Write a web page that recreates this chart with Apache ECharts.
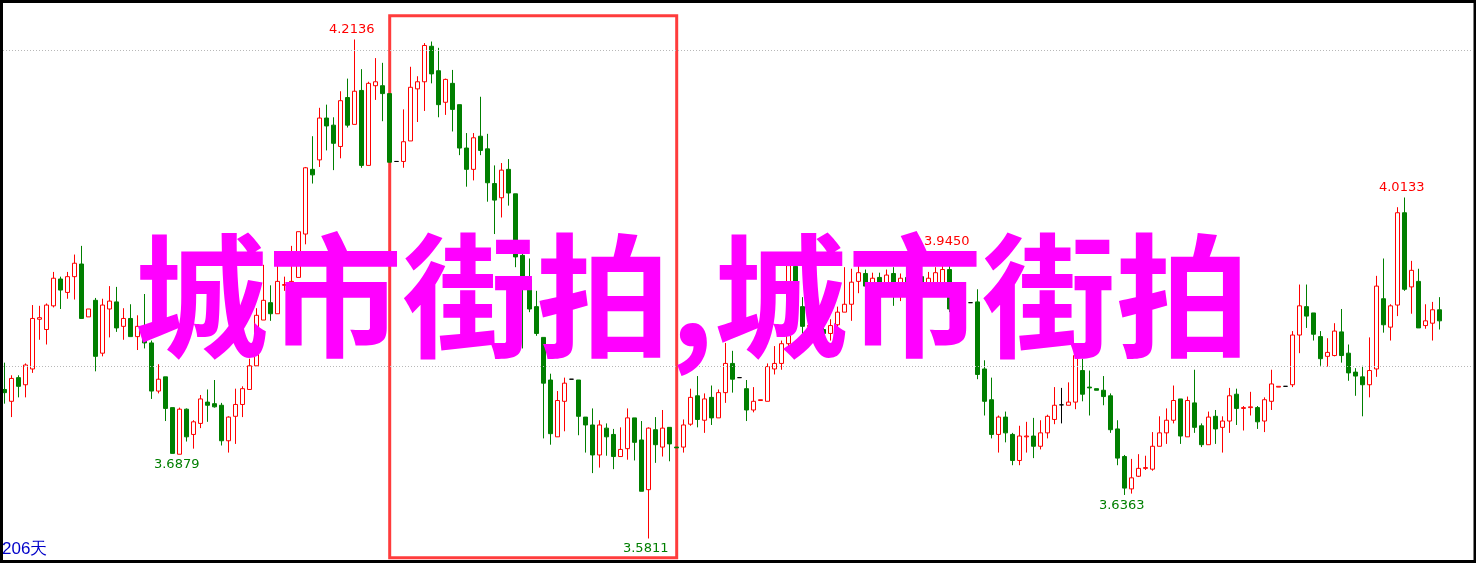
<!DOCTYPE html>
<html>
<head>
<meta charset="utf-8">
<script src="https://cdn.jsdelivr.net/npm/echarts@6/dist/echarts.min.js"></script>
<style>
html,body{margin:0;padding:0;background:#fff;}
#c{width:1476px;height:563px;}
</style>
</head>
<body>
<div id="c"></div>
<script>
const opens = [
3.770,3.755,3.785,3.776,3.796,3.859,3.846,3.876,3.910,3.893,
3.913,3.929,3.862,3.883,3.816,3.872,3.881,3.850,3.860,3.837,
3.849,3.829,3.768,3.786,3.747,3.6879,3.745,3.713,3.727,3.754,
3.752,3.750,3.705,3.736,3.751,3.770,3.800,3.858,3.880,3.866,
3.902,3.897,3.912,3.967,4.049,4.061,4.114,4.105,4.078,4.140,
4.106,4.149,4.054,4.155,4.155,4.145,4.059,4.059,4.085,4.151,
4.160,4.205,4.174,4.134,4.158,4.131,4.076,4.049,4.091,4.075,
4.031,4.013,4.049,4.018,3.940,3.909,3.875,3.836,3.782,3.710,
3.755,3.783,3.782,3.735,3.725,3.687,3.721,3.713,3.685,3.695,
3.734,3.706,3.643,3.719,3.697,3.722,3.697,3.697,3.726,3.762,
3.731,3.760,3.734,3.766,3.803,3.785,3.771,3.744,3.756,3.755,
3.796,3.803,3.828,3.926,3.875,3.850,3.851,3.846,3.841,3.852,
3.868,3.878,3.907,3.917,3.901,3.912,3.904,3.917,3.904,3.912,
3.904,3.913,3.902,3.904,3.904,3.922,3.872,3.877,3.880,3.881,
3.796,3.757,3.713,3.735,3.713,3.680,3.710,3.711,3.698,3.715,
3.732,3.7505,3.750,3.754,3.794,3.773,3.771,3.769,3.762,3.720,
3.685,3.644,3.660,3.670,3.669,3.698,3.715,3.731,3.758,3.710,
3.753,3.724,3.700,3.736,3.722,3.730,3.764,3.746,3.747,3.747,
3.730,3.755,3.773,3.774,3.776,3.839,3.875,3.867,3.837,3.812,
3.813,3.843,3.816,3.792,3.786,3.776,3.796,3.885,3.849,3.877,
3.994,3.900,3.907,3.851,3.854,3.871
];
const closes = [
3.766,3.784,3.774,3.801,3.860,3.861,3.877,3.911,3.896,3.913,
3.930,3.860,3.872,3.812,3.877,3.882,3.848,3.860,3.837,3.850,
3.829,3.768,3.783,3.746,3.689,3.745,3.710,3.729,3.758,3.750,
3.748,3.705,3.735,3.751,3.771,3.800,3.864,3.883,3.866,3.907,
3.903,3.907,3.970,4.051,4.042,4.114,4.104,4.082,4.136,4.105,
4.148,4.054,4.158,4.160,4.145,4.058,4.059,4.084,4.153,4.160,
4.206,4.170,4.131,4.163,4.125,4.076,4.049,4.089,4.073,4.032,
4.010,4.048,4.019,3.938,3.911,3.872,3.841,3.778,3.714,3.756,
3.778,3.783,3.736,3.725,3.687,3.725,3.710,3.685,3.694,3.734,
3.703,3.641,3.721,3.700,3.721,3.701,3.696,3.725,3.760,3.732,
3.758,3.734,3.766,3.803,3.783,3.785,3.744,3.755,3.757,3.799,
3.803,3.828,3.927,3.877,3.850,3.851,3.845,3.841,3.851,3.868,
3.878,3.906,3.918,3.901,3.911,3.904,3.915,3.904,3.911,3.904,
3.913,3.902,3.911,3.918,3.922,3.872,3.881,3.881,3.880,3.789,
3.755,3.713,3.735,3.715,3.680,3.711,3.711,3.698,3.715,3.736,
3.750,3.7505,3.754,3.813,3.764,3.772,3.769,3.761,3.719,3.683,
3.645,3.658,3.670,3.671,3.698,3.715,3.731,3.756,3.711,3.756,
3.722,3.700,3.735,3.720,3.730,3.762,3.746,3.747,3.748,3.729,
3.757,3.777,3.774,3.774,3.839,3.876,3.863,3.840,3.809,3.817,
3.844,3.813,3.791,3.787,3.776,3.794,3.901,3.852,3.876,3.994,
3.897,3.921,3.848,3.857,3.871,3.857
];
const lows = [
3.752,3.735,3.760,3.760,3.791,3.833,3.827,3.874,3.872,3.885,
3.884,3.860,3.862,3.793,3.812,3.836,3.843,3.833,3.837,3.820,
3.822,3.758,3.765,3.730,3.689,3.6879,3.704,3.695,3.721,3.729,
3.747,3.699,3.690,3.701,3.735,3.770,3.800,3.858,3.857,3.866,
3.895,3.895,3.912,3.954,4.031,4.052,4.073,4.048,4.063,4.102,
4.106,4.051,4.054,4.137,4.110,4.058,4.059,4.051,4.085,4.109,
4.123,4.158,4.115,4.118,4.097,4.067,4.027,4.035,4.067,4.008,
3.967,3.988,4.003,3.925,3.822,3.868,3.838,3.708,3.700,3.710,
3.717,3.783,3.712,3.690,3.664,3.671,3.686,3.669,3.685,3.681,
3.680,3.641,3.5811,3.677,3.685,3.679,3.696,3.690,3.724,3.722,
3.715,3.725,3.734,3.753,3.766,3.785,3.730,3.741,3.756,3.755,
3.789,3.795,3.820,3.872,3.834,3.850,3.838,3.834,3.832,3.834,
3.868,3.857,3.892,3.887,3.895,3.897,3.904,3.876,3.882,3.863,
3.900,3.895,3.897,3.900,3.904,3.868,3.872,3.875,3.880,3.783,
3.737,3.708,3.690,3.703,3.674,3.674,3.690,3.683,3.694,3.708,
3.726,3.727,3.750,3.745,3.755,3.737,3.769,3.750,3.715,3.674,
3.6363,3.638,3.659,3.668,3.667,3.698,3.701,3.727,3.701,3.710,
3.715,3.697,3.700,3.701,3.690,3.715,3.725,3.718,3.737,3.720,
3.716,3.744,3.773,3.774,3.773,3.816,3.848,3.832,3.800,3.799,
3.812,3.804,3.781,3.762,3.736,3.760,3.786,3.842,3.832,3.863,
3.895,3.866,3.848,3.847,3.832,3.846
];
const highs = [
3.804,3.788,3.788,3.803,3.877,3.876,3.879,3.919,3.913,3.919,
3.941,3.952,3.872,3.886,3.885,3.901,3.900,3.873,3.878,3.864,
3.891,3.832,3.802,3.786,3.747,3.747,3.746,3.731,3.763,3.770,
3.782,3.753,3.736,3.771,3.774,3.809,3.873,3.928,3.902,3.927,
3.913,3.952,3.970,4.052,4.091,4.127,4.131,4.115,4.148,4.164,
4.2136,4.176,4.160,4.190,4.184,4.145,4.059,4.125,4.179,4.167,
4.209,4.211,4.203,4.164,4.175,4.131,4.095,4.095,4.141,4.094,
4.054,4.057,4.062,4.018,3.942,3.936,3.895,3.836,3.790,3.768,
3.785,3.783,3.782,3.735,3.746,3.731,3.727,3.720,3.722,3.746,
3.734,3.730,3.722,3.735,3.744,3.722,3.697,3.732,3.771,3.787,
3.765,3.775,3.770,3.829,3.819,3.785,3.782,3.773,3.757,3.803,
3.825,3.832,3.940,3.932,3.887,3.851,3.859,3.852,3.859,3.875,
3.925,3.923,3.944,3.922,3.918,3.918,3.922,3.925,3.917,3.912,
3.920,3.918,3.919,3.925,3.927,3.9450,3.884,3.888,3.880,3.897,
3.807,3.785,3.737,3.742,3.715,3.724,3.729,3.734,3.731,3.738,
3.773,3.772,3.779,3.816,3.809,3.794,3.771,3.787,3.765,3.731,
3.687,3.682,3.688,3.686,3.716,3.736,3.746,3.775,3.758,3.761,
3.795,3.727,3.742,3.744,3.736,3.772,3.771,3.749,3.767,3.749,
3.760,3.795,3.774,3.774,3.844,3.903,3.903,3.867,3.844,3.835,
3.854,3.872,3.827,3.797,3.800,3.836,3.914,3.936,3.878,4.001,
4.0133,3.933,3.923,3.878,3.881,3.887
];
// flat (doji) candles drawn in black
const blackDoji = [56, 81, 105, 138, 151, 183];
// highlighted extremes: [index, value, 'top'|'bottom']
const extremes = [
  [50, 4.2136, 'top'], [25, 3.6879, 'bottom'], [92, 3.5811, 'bottom'],
  [135, 3.9450, 'top'], [160, 3.6363, 'bottom'], [200, 4.0133, 'top']
];
const gridLevels = [3.8, 4.2];
const boxRange = { from: 55, to: 96, top: 4.2436, bottom: 3.5568 };
const dayCount = 206;
const titleText = '城市街拍,城市街拍';
const yMin = 3.5526, yMax = 4.2611;

const categories = opens.map((_, i) => String(i + 1));
const RED = '#ff0000', GREEN = '#007f00';

const candleData = opens.map((o, i) => {
  const item = { value: [o, closes[i], lows[i], highs[i]] };
  if (blackDoji.indexOf(i) >= 0) {
    item.itemStyle = { color: '#000', color0: '#000', borderColor: '#000', borderColor0: '#000', borderColorDoji: '#000' };
  }
  return item;
});

const chart = echarts.init(document.getElementById('c'), null, { renderer: 'canvas' });
chart.setOption({
  animation: false,
  backgroundColor: '#ffffff',
  grid: [
    { left: 1.2, width: 1442, top: 2, height: 559 },
    { left: 3, right: 3, top: 2, height: 559 }
  ],
  xAxis: [
    { type: 'category', gridIndex: 0, data: categories, boundaryGap: true, show: false },
    { type: 'value', gridIndex: 1, min: 0, max: 1, show: false }
  ],
  yAxis: [
    { type: 'value', gridIndex: 0, min: yMin, max: yMax, show: false, splitLine: { show: false } },
    { type: 'value', gridIndex: 1, min: yMin, max: yMax, show: false, splitLine: { show: false } }
  ],
  series: [{
    type: 'line',
    xAxisIndex: 1, yAxisIndex: 1,
    data: [],
    silent: true,
    z: 1,
    markLine: {
      silent: true, symbol: ['none', 'none'],
      label: { show: false },
      lineStyle: { color: '#b8b8b8', width: 1, type: [1, 2] },
      emphasis: { disabled: true },
      data: gridLevels.map(v => ({ yAxis: v }))
    }
  }, {
    type: 'candlestick',
    xAxisIndex: 0, yAxisIndex: 0,
    barWidth: 5,
    z: 3,
    data: candleData,
    itemStyle: {
      color: '#ffffff', color0: GREEN,
      borderColor: RED, borderColor0: GREEN, borderColorDoji: RED, borderWidth: 1
    },
    markPoint: {
      symbol: 'circle', symbolSize: 0, silent: true,
      data: extremes.map(e => ({
        coord: [e[0], e[1]],
        value: e[1].toFixed(4),
        label: {
          show: true, position: e[2], distance: e[2] === 'top' ? 3 : 4,
          offset: [-3, 0],
          color: e[2] === 'top' ? RED : GREEN,
          fontFamily: 'DejaVu Sans', fontSize: 13
        }
      }))
    },
    markArea: {
      silent: true,
      label: { show: false },
      itemStyle: { color: 'rgba(0,0,0,0)', borderColor: '#ff3c3c', borderWidth: 3 },
      data: [[{ xAxis: boxRange.from, yAxis: boxRange.top }, { xAxis: boxRange.to, yAxis: boxRange.bottom }]]
    }
  }],
  graphic: [
    {
      type: 'text', z: 100, silent: true,
      style: {
        text: titleText, x: 692, y: 296,
        fill: '#ff00ff',
        font: 'bold 134px "Noto Sans CJK SC"',
        textAlign: 'center', textVerticalAlign: 'middle',
        align: 'center', verticalAlign: 'middle'
      }
    },
    {
      type: 'text', z: 100, silent: true,
      style: {
        text: dayCount + '天', x: 2, y: 549,
        fill: '#0000c8',
        font: '17px "Liberation Sans"',
        textAlign: 'left', textVerticalAlign: 'middle',
        align: 'left', verticalAlign: 'middle'
      }
    },
    {
      type: 'rect', z: 101, silent: true,
      shape: { x: 1.5, y: 1.5, width: 1473.5, height: 560 },
      style: { fill: 'none', stroke: '#000', lineWidth: 3 }
    }
  ]
});
</script>
</body>
</html>
